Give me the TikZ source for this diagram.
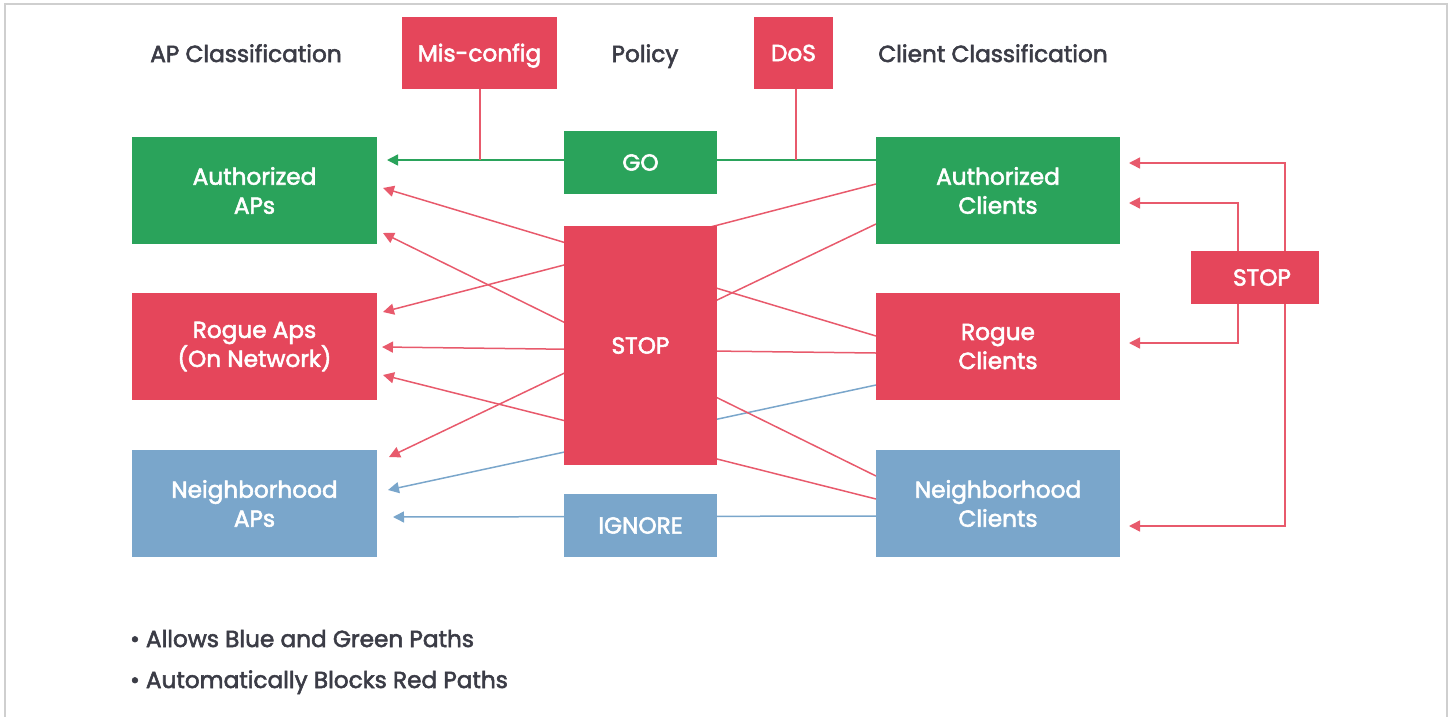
\documentclass[tikz,border=0pt]{standalone}
\usepackage{fontspec}
\setmainfont{Poppins}[FakeBold=2.4,AutoFakeBold=2.4]
\usetikzlibrary{arrows.meta,calc}
\definecolor{gr}{HTML}{2AA35B}
\definecolor{rd}{HTML}{E5465B}
\definecolor{bl}{HTML}{7AA6CB}
\definecolor{rl}{HTML}{E85A6C}
\definecolor{tx}{HTML}{3B3C46}
\definecolor{bd}{HTML}{CFCFCF}
\pgfdeclarelayer{bg}
\pgfsetlayers{bg,main}
\begin{document}
\begin{tikzpicture}[x=1pt,y=-1pt,
  box/.style={draw=none, anchor=north west, inner sep=0pt, outer sep=0pt, text=white, align=center, font=\fontsize{23.2}{29}\selectfont\bfseries},
  lab/.style={text=tx, inner sep=0pt, anchor=base, font=\fontsize{23.2}{29}\selectfont\bfseries},
  rline/.style={draw=rl, line width=1.5pt},
  gline/.style={draw=gr, line width=1.5pt},
  bline/.style={draw=bl, line width=1.5pt},
  tip/.style={-{Triangle[length=11pt,width=11pt]}},
]
\useasboundingbox (0,0) rectangle (1452,716);
\draw[bd, line width=1.5pt] (5,720) -- (5,4) -- (1447,4) -- (1447,720);

% headers
\node[lab] (hap) at (246,62) {AP Classification};
\node[lab] (hpol) at (645,62) {Policy};
\node[lab] (hcl) at (993,62) {Client Classification};

% top boxes
\node[box, fill=rd, minimum width=155, minimum height=72, text depth=1pt] (MC) at (402,17) {Mis-config};
\node[box, fill=rd, minimum width=79, minimum height=72] (DoS) at (754,17) {DoS};

% AP boxes
\node[box, fill=gr, minimum width=245, minimum height=107] (AAP) at (132,137) {Authorized\\APs};
\node[box, fill=rd, minimum width=245, minimum height=107] (RAP) at (132,293) {Rogue Aps\\(On Network)};
\node[box, fill=bl, minimum width=245, minimum height=107] (NAP) at (132,450) {Neighborhood\\APs};

% policy boxes
\node[box, fill=gr, minimum width=153, minimum height=63] (GO) at (564,131) {GO};
\node[box, fill=rd, minimum width=153, minimum height=239] (ST) at (564,226) {STOP};
\node[box, fill=bl, minimum width=153, minimum height=63] (IG) at (564,494) {IGNORE};

% client boxes
\node[box, fill=gr, minimum width=244, minimum height=107] (AC) at (876,137) {Authorized\\Clients};
\node[box, fill=rd, minimum width=244, minimum height=107] (RC) at (876,293) {Rogue\\Clients};
\node[box, fill=bl, minimum width=244, minimum height=107] (NC) at (876,450) {Neighborhood\\Clients};

% right stop
\node[box, fill=rd, minimum width=128, minimum height=53] (RS) at (1191,251) {\hspace*{14pt}STOP};

% bullets
\node[lab, anchor=base west] (b1) at (130,647) {• Allows Blue and Green Paths};
\node[lab, anchor=base west] (b2) at (130,688) {• Automatically Blocks Red Paths};

\begin{pgfonlayer}{bg}
  % GO line
  \draw[gline, tip] ($(AC.north west)+(0,23)$) coordinate (g1) -- ($(AAP.north east)+(10,23)$);
  \draw[rline] ($(MC.south)+(0.5,0)$) coordinate (m1) -- (m1 |- g1);
  \draw[rline] ($(DoS.south)+(2.5,0)$) coordinate (d1) -- (d1 |- g1);
  % red crossing paths
  \draw[rline, tip] ($(AC.north west)+(0,47)$) -- ($(RAP.north east)+(6,19)$);
  \draw[rline, tip] ($(AC.north west)+(0,87)$) -- ($(NAP.north east)+(12,7)$);
  \draw[rline, tip] ($(RC.north west)+(0,43)$) -- ($(AAP.north east)+(6,51)$);
  \draw[rline, tip] ($(RC.north west)+(0,60)$) -- ($(RAP.north east)+(5,54)$);
  \draw[bline, tip] ($(RC.north west)+(0,92)$) -- ($(NAP.north east)+(11,40)$);
  \draw[rline, tip] ($(NC.north west)+(0,26)$) -- ($(AAP.north east)+(6,96)$);
  \draw[rline, tip] ($(NC.north west)+(0,49)$) -- ($(RAP.north east)+(6,82)$);
  \draw[bline, tip] ($(NC.north west)+(0,66)$) -- ($(NAP.north east)+(16,67)$);
  % right stop connectors
  \draw[rline, tip] ($(RS.north west)+(94,0)$) |- ($(AC.north east)+(9,26)$);
  \draw[rline, tip] ($(RS.north west)+(47,0)$) |- ($(AC.north east)+(9,66)$);
  \draw[rline, tip] ($(RS.south west)+(47,0)$) |- ($(RC.north east)+(9,50)$);
  \draw[rline, tip] ($(RS.south west)+(94,0)$) |- ($(NC.north east)+(9,76)$);
\end{pgfonlayer}
\end{tikzpicture}
\end{document}
